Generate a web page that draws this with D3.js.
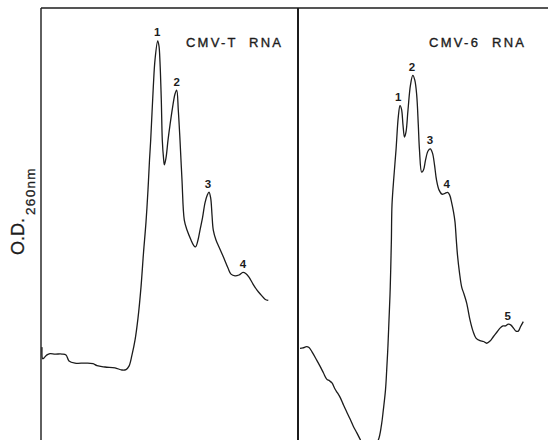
<!DOCTYPE html>
<html>
<head>
<meta charset="utf-8">
<script src="https://cdn.jsdelivr.net/npm/d3@7"></script>
<style>
  html, body { margin: 0; padding: 0; background: #fff; overflow: hidden; }
  svg { display: block; }
</style>
</head>
<body>
<div id="chart"></div>
<script>
// Scan positions (0-100 across each panel) and O.D. 260 nm (relative units)
const leftX = [0.39, 0.66, 1.17, 2.33, 3.50, 5.45, 8.17, 9.73, 10.89, 13.23, 17.12, 20.23, 21.79, 24.90,
  28.79, 31.52, 33.07, 34.24, 35.41, 36.58, 37.74, 38.91, 39.88, 40.86, 41.63, 42.22, 42.68, 43.70,
  44.36, 45.41, 45.91, 46.30, 46.81, 47.20, 47.67, 48.02, 48.64, 49.42, 50.19, 51.17, 52.14, 52.80, 53.42,
  54.09, 54.86, 55.76, 56.81, 58.37, 59.34, 60.12, 61.09, 61.87, 62.84, 63.81, 64.71, 65.37, 66.03, 66.54,
  67.04, 68.09, 69.26, 70.93, 72.76, 73.93, 75.49, 77.04, 78.60, 79.77, 80.93, 82.49, 84.05, 85.60,
  87.16, 88.44];
const leftOD = [0.215, 0.188, 0.190, 0.197, 0.200, 0.199, 0.199, 0.197, 0.183, 0.178, 0.178, 0.177, 0.172, 0.169,
  0.167, 0.162, 0.163, 0.171, 0.197, 0.231, 0.282, 0.354, 0.433, 0.505, 0.579, 0.648, 0.694, 0.818,
  0.880, 0.924, 0.912, 0.875, 0.787, 0.694, 0.653, 0.637, 0.653, 0.694, 0.729, 0.769, 0.801, 0.810, 0.764,
  0.694, 0.602, 0.509, 0.486, 0.463, 0.451, 0.447, 0.463, 0.486, 0.514, 0.549, 0.567, 0.574, 0.560, 0.521,
  0.486, 0.463, 0.447, 0.424, 0.398, 0.384, 0.380, 0.382, 0.388, 0.385, 0.377, 0.361, 0.347, 0.336,
  0.326, 0.323];

const rightX = [0.79, 1.98, 3.37, 4.37, 5.56, 7.42, 8.73, 10.12, 11.39, 12.50, 13.49, 14.68, 15.67, 16.87,
  18.06, 19.33, 20.63, 21.94, 23.41, 24.80, 26.19, 28.17, 30.16, 31.87, 33.13, 33.85, 34.72, 35.20,
  35.71, 36.11, 36.51, 36.79, 37.06, 37.30, 38.10, 38.89, 39.80, 40.48, 41.07, 41.67, 42.26, 42.86,
  43.65, 44.64, 45.56, 46.35, 47.10, 47.74, 48.21, 49.09, 49.80, 50.60, 51.59, 52.50, 53.37, 54.17,
  54.96, 55.95, 57.14, 58.33, 59.33, 60.12, 60.99, 61.71, 62.30, 62.82, 63.29, 64.09, 64.96, 65.87,
  66.94, 68.25, 69.44, 70.63, 72.22, 73.61, 74.88, 76.19, 77.50, 78.97, 80.16, 81.35, 82.34, 83.45,
  84.52, 85.52, 86.51, 87.42, 88.29, 89.40];
const rightOD = [0.212, 0.213, 0.216, 0.214, 0.204, 0.185, 0.171, 0.155, 0.141, 0.137, 0.132, 0.118, 0.109, 0.097,
  0.081, 0.065, 0.049, 0.032, 0.016, 0.000, -0.014, -0.021, -0.014, 0.000, 0.035, 0.069, 0.116, 0.162,
  0.220, 0.278, 0.336, 0.394, 0.463, 0.544, 0.613, 0.671, 0.748, 0.774, 0.766, 0.729, 0.701, 0.713,
  0.764, 0.822, 0.844, 0.833, 0.799, 0.729, 0.671, 0.620, 0.625, 0.648, 0.669, 0.674, 0.664, 0.637,
  0.602, 0.579, 0.569, 0.571, 0.573, 0.568, 0.549, 0.528, 0.505, 0.463, 0.428, 0.387, 0.354, 0.338,
  0.317, 0.278, 0.252, 0.236, 0.230, 0.228, 0.224, 0.229, 0.239, 0.250, 0.259, 0.264, 0.264, 0.268,
  0.266, 0.259, 0.252, 0.252, 0.262, 0.274];

// Peak labels
const leftPeakNames = ["1", "2", "3", "4"];
const leftPeakX = [45.2, 52.8, 65.0, 78.6];
const leftPeakOD = [0.924, 0.810, 0.574, 0.388];
const rightPeakNames = ["1", "2", "3", "4", "5"];
const rightPeakX = [39.8, 45.2, 52.4, 59.0, 83.2];
const rightPeakOD = [0.774, 0.844, 0.674, 0.573, 0.268];

const panelTitles = ["CMV-T  RNA", "CMV-6  RNA"];

const width = 550;
const height = 440;
const margin = {top: 8, left: 41};
const divide = 298;

const svg = d3.select("#chart")
    .append("svg")
    .attr("width", width)
    .attr("height", height);

svg.append("defs").append("clipPath")
    .attr("id", "clip")
    .append("rect")
    .attr("x", 0).attr("y", 0)
    .attr("width", width).attr("height", height);

// scales
const y = d3.scaleLinear().domain([0, 1]).range([height, margin.top]);
const xL = d3.scaleLinear().domain([0, 100]).range([margin.left, divide]);
const xR = d3.scaleLinear().domain([0, 100]).range([divide, width]);

const ink = "#1c1c1c";
const font = "'Liberation Sans', Arial, sans-serif";

// frame
svg.append("line")
    .attr("x1", xL.range()[0]).attr("x2", xL.range()[0])
    .attr("y1", y.range()[1]).attr("y2", height)
    .attr("stroke", ink).attr("stroke-width", 1.4);
svg.append("line")
    .attr("x1", xL.range()[0]).attr("x2", xR.range()[1] - 2)
    .attr("y1", y.range()[1]).attr("y2", y.range()[1])
    .attr("stroke", ink).attr("stroke-width", 1.4);
svg.append("line")
    .attr("x1", divide).attr("x2", divide)
    .attr("y1", y.range()[1]).attr("y2", height)
    .attr("stroke", ink).attr("stroke-width", 2);

// traces
const panels = [
  {x: xL, xs: leftX, ys: leftOD, names: leftPeakNames, px: leftPeakX, py: leftPeakOD, title: panelTitles[0], tx: 186},
  {x: xR, xs: rightX, ys: rightOD, names: rightPeakNames, px: rightPeakX, py: rightPeakOD, title: panelTitles[1], tx: 429}
];

panels.forEach(function (p) {
  const line = d3.line()
      .x(function (d) { return p.x(d[0]); })
      .y(function (d) { return y(d[1]); })
      .curve(d3.curveCatmullRom.alpha(0.5));

  svg.append("path")
      .datum(d3.zip(p.xs, p.ys))
      .attr("clip-path", "url(#clip)")
      .attr("fill", "none")
      .attr("stroke", ink)
      .attr("stroke-width", 1.3)
      .attr("stroke-linejoin", "round")
      .attr("d", line);

  svg.selectAll(null)
      .data(d3.zip(p.names, p.px, p.py))
      .enter()
      .append("text")
      .attr("x", function (d) { return p.x(d[1]); })
      .attr("y", function (d) { return y(d[2]) - 4.5; })
      .attr("text-anchor", "middle")
      .attr("font-family", font)
      .attr("font-weight", "bold")
      .attr("font-size", 11.5)
      .attr("fill", ink)
      .text(function (d) { return d[0]; });

  svg.append("text")
      .attr("x", p.tx)
      .attr("y", 46.5)
      .attr("font-family", font)
      .attr("font-size", 13)
      .attr("textLength", 95)
      .attr("lengthAdjust", "spacing")
      .style("white-space", "pre")
      .attr("fill", ink)
      .attr("stroke", ink)
      .attr("stroke-width", 0.35)
      .text(p.title);
});

// y label
const yLabel = svg.append("text")
    .attr("transform", "translate(23.5,255) rotate(-90)")
    .attr("font-family", font)
    .attr("fill", ink)
    .attr("stroke", ink)
    .attr("stroke-width", 0.3);
yLabel.append("tspan")
    .attr("font-size", 18)
    .text("O.D.");
yLabel.append("tspan")
    .attr("font-size", 13.5)
    .attr("dx", 3)
    .attr("dy", 11)
    .attr("letter-spacing", 1.3)
    .text("260nm");
</script>
</body>
</html>
